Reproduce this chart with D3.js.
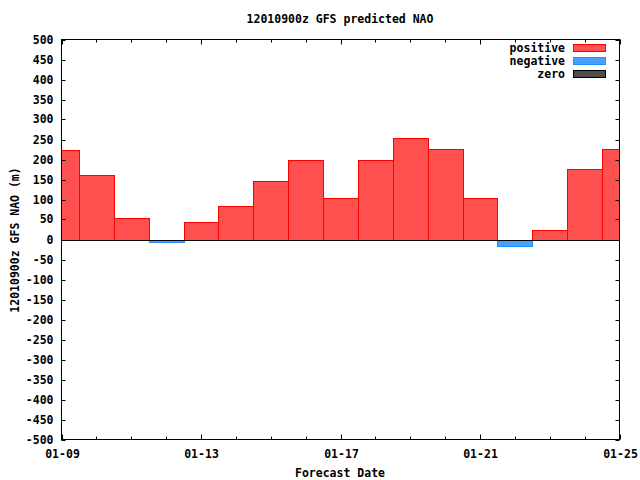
<!DOCTYPE html>
<meta charset="utf-8">
<html lang="en">
<style>
body { margin: 0; background: #fff; }
text { font: bold 11.5px "DejaVu Sans Mono", monospace; fill: #000; }
.frame { fill: none; stroke: #000; stroke-width: 1px; }
.tick { stroke: #000; stroke-width: 1px; }
.pos { fill: #ff5050; stroke: #ff0000; stroke-width: 1px; }
.neg { fill: #4aa0ff; stroke: #1e90ff; stroke-width: 1px; }
.zero { fill: #4d4d4d; stroke: #000; stroke-width: 1px; }
</style>
<body>
<div id="chart"></div>
<script src="https://cdn.jsdelivr.net/npm/d3@7"></script>
<script>
// forecast days (2012) and predicted NAO values
var days = ["2012-01-09","2012-01-10","2012-01-11","2012-01-12","2012-01-13","2012-01-14",
            "2012-01-15","2012-01-16","2012-01-17","2012-01-18","2012-01-19","2012-01-20",
            "2012-01-21","2012-01-22","2012-01-23","2012-01-24","2012-01-25"];
var nao = [225, 161, 55, -5, 43, 85, 145, 200, 103, 198, 255, 227, 103, -15, 23, 175, 227];
var yTicks = d3.range(-500, 501, 50);
var xTickLabels = ["01-09","01-13","01-17","01-21","01-25"];
var legendNames = ["positive","negative","zero"];

var width = 640, height = 480,
    pLeft = 61.5, pRight = 619.5, pTop = 39.5, pBottom = 439.5;

var parse = d3.utcParse("%Y-%m-%d");
var dates = days.map(parse);
var HALF = 12 * 3600 * 1000;

var x = d3.scaleUtc()
    .domain([dates[0], dates[dates.length - 1]])
    .range([pLeft, pRight]);
var y = d3.scaleLinear()
    .domain([-500, 500])
    .range([pBottom, pTop]);

var svg = d3.select("#chart").append("svg")
    .attr("width", width)
    .attr("height", height);

svg.append("defs").append("clipPath")
    .attr("id", "clip")
  .append("rect")
    .attr("x", pLeft).attr("y", pTop)
    .attr("width", pRight - pLeft).attr("height", pBottom - pTop);

// bars, one day wide, centred on each date
function edge(d, off) { return Math.round(x(new Date(+d + off))); }
var bars = svg.append("g").attr("clip-path", "url(#clip)");
bars.selectAll("rect")
  .data(nao)
  .enter().append("rect")
    .attr("class", function(d) { return d >= 0 ? "pos" : "neg"; })
    .attr("x", function(d, i) { return edge(dates[i], -HALF) + 0.5; })
    .attr("width", function(d, i) { return edge(dates[i], HALF) - edge(dates[i], -HALF); })
    .attr("y", function(d) { return Math.round(y(Math.max(d, 0))) + 0.5; })
    .attr("height", function(d) { return Math.abs(Math.round(y(d)) - Math.round(y(0))); });

// zero line
svg.append("line")
    .attr("class", "tick")
    .attr("x1", pLeft).attr("x2", pRight)
    .attr("y1", Math.round(y(0)) + 0.5).attr("y2", Math.round(y(0)) + 0.5);

// y ticks, mirrored on the right
var yg = svg.append("g");
yTicks.forEach(function(t) {
  var yy = Math.round(y(t)) + 0.5;
  yg.append("line").attr("class", "tick").attr("x1", pLeft).attr("x2", pLeft + 4).attr("y1", yy).attr("y2", yy);
  yg.append("line").attr("class", "tick").attr("x1", pRight).attr("x2", pRight - 4).attr("y1", yy).attr("y2", yy);
  yg.append("text").attr("x", pLeft - 8).attr("y", yy).attr("dy", "0.32em")
    .attr("text-anchor", "end").text(t);
});

// x ticks: every day minor, every 4 days major
var xg = svg.append("g");
dates.forEach(function(d, i) {
  var xx = Math.round(x(d)) + 0.5;
  var len = (i % 4 === 0) ? 5 : 3;
  xg.append("line").attr("class", "tick").attr("x1", xx).attr("x2", xx).attr("y1", pBottom).attr("y2", pBottom - len);
  xg.append("line").attr("class", "tick").attr("x1", xx).attr("x2", xx).attr("y1", pTop).attr("y2", pTop + len);
  if (i % 4 === 0) {
    xg.append("text").attr("x", xx).attr("y", pBottom + 18)
      .attr("text-anchor", "middle").text(xTickLabels[i / 4]);
  }
});

svg.append("rect").attr("class", "frame")
    .attr("x", pLeft).attr("y", pTop)
    .attr("width", pRight - pLeft).attr("height", pBottom - pTop);

// titles
svg.append("text").attr("x", 340).attr("y", 23).attr("text-anchor", "middle")
    .text("12010900z GFS predicted NAO");
svg.append("text").attr("x", 340).attr("y", 477).attr("text-anchor", "middle")
    .text("Forecast Date");
svg.append("text").attr("transform", "translate(19,240) rotate(-90)")
    .attr("text-anchor", "middle")
    .text("12010900z GFS NAO (m)");

// legend
var legendClass = ["pos", "neg", "zero"];
var lg = svg.append("g");
legendNames.forEach(function(name, i) {
  var yy = 48 + i * 13;
  lg.append("text").attr("x", 565).attr("y", yy).attr("dy", "0.35em")
    .attr("text-anchor", "end").text(name);
  lg.append("rect").attr("class", legendClass[i])
    .attr("x", 573.5).attr("y", yy - 3.5).attr("width", 32).attr("height", 7);
});
</script>
</body>
</html>
